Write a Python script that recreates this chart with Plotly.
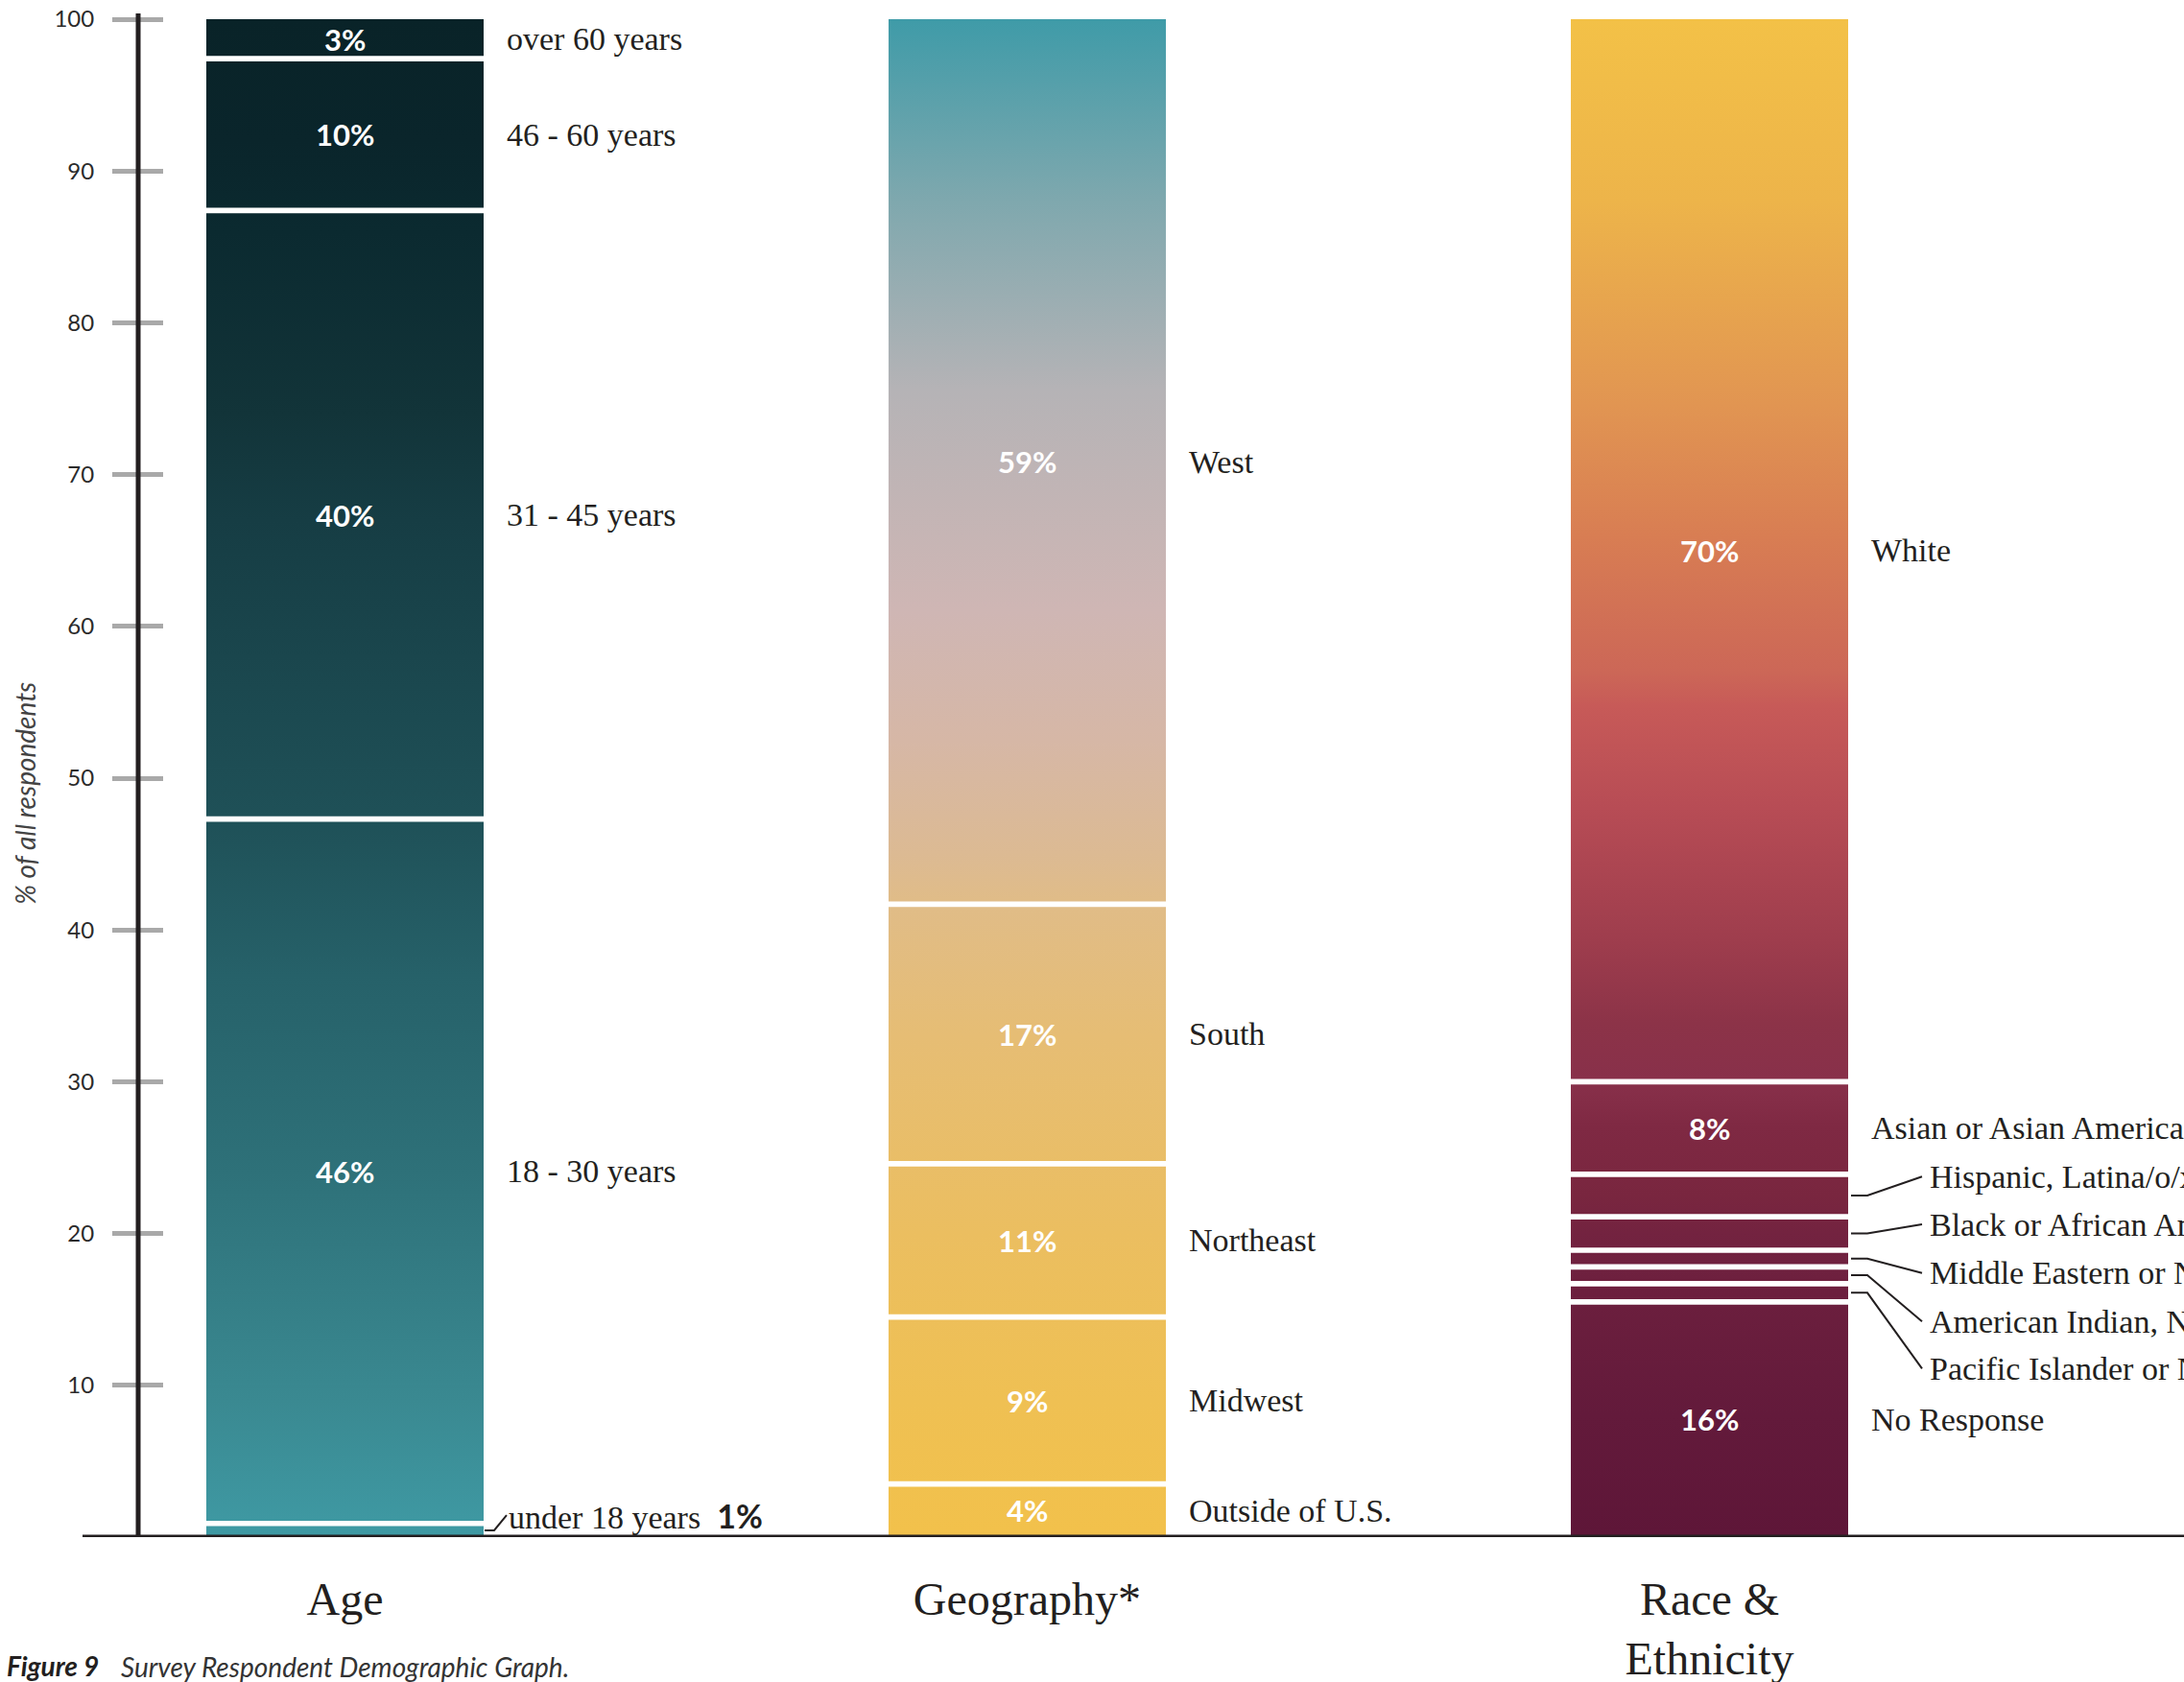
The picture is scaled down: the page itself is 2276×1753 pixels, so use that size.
import plotly.graph_objects as go

# ---------------- data ----------------
categories = ["Age", "Geography*", "Race &<br>Ethnicity"]

age_groups = ["under 18 years", "18 - 30 years", "31 - 45 years", "46 - 60 years", "over 60 years"]
age_values = [0.9, 46.4, 40.1, 10.0, 2.6]
age_labels = ["1%", "46%", "40%", "10%", "3%"]

geo_groups = ["Outside of U.S.", "Midwest", "Northeast", "South", "West"]
geo_values = [3.5, 11.0, 10.1, 17.1, 58.3]
geo_labels = ["4%", "9%", "11%", "17%", "59%"]

race_groups = ["No Response",
               "Pacific Islander or Native Hawaiian",
               "American Indian, Native American, or Alaska Native",
               "Middle Eastern or North African",
               "Black or African American",
               "Hispanic, Latina/o/x, or Spanish Origin",
               "Asian or Asian American",
               "White"]
race_values = [15.5, 1.2, 1.1, 1.1, 2.2, 2.8, 6.1, 70.0]
race_labels = ["16%", "", "", "", "", "", "8%", "70%"]

y_ticks = [10, 20, 30, 40, 50, 60, 70, 80, 90, 100]

# ---------------- styles / layout geometry ----------------
age_scale = [[0, "#3F9AA4"], [0.09, "#3A8991"], [0.24, "#2E7179"], [0.37, "#266169"],
             [0.47, "#1F5158"], [0.67, "#163D44"], [0.74, "#123439"], [0.86, "#0B2A30"],
             [0.92, "#0A252B"], [1, "#092328"]]
geo_scale = [[0, "#F2C14B"], [0.09, "#EFC053"], [0.2, "#EBBE60"], [0.33, "#E6BD74"],
             [0.42, "#E0BC88"], [0.45, "#DCBA93"], [0.525, "#D6B7A6"], [0.61, "#CFB6B4"],
             [0.756, "#B5B3B6"], [0.88, "#7FA8AE"], [1, "#3F9BA8"]]
race_scale = [[0, "#5E1638"], [0.08, "#631A3B"], [0.16, "#6C1F3E"], [0.2, "#732340"],
              [0.225, "#79263F"], [0.27, "#7F2943"], [0.3, "#88304A"], [0.339, "#8C3348"],
              [0.392, "#9E3D4D"], [0.48, "#B74C55"], [0.547, "#C75A58"], [0.57, "#CC6757"],
              [0.658, "#D87D53"], [0.746, "#E19552"], [0.88, "#EDB44A"], [1, "#F3C147"]]

# label positions (layout only) for small race groups that use leader lines
race_leader_label_y = {1: 11.1, 2: 14.2, 3: 17.4, 4: 20.6, 5: 23.75}
under18_label_y = 1.45

SERIF = "Liberation Serif"
SANS = "Lato"
INK = "#231f20"

W, H = 2276, 1753
ML, MT, MB = 171, 14, 151
plot_w = W - ML
plot_h = H - MT - MB
Y_MAX = 100.38
px_per_y = plot_h / Y_MAX
X_MIN, X_MAX = -0.2651, 2.6955
px_per_x = plot_w / (X_MAX - X_MIN)
HALF_W = 144.5 / px_per_x
GAP = 5.7 / px_per_y


def paper_x(px):
    return (px - ML) / plot_w


columns = [
    (age_groups, age_values, age_labels, age_scale),
    (geo_groups, geo_values, geo_labels, geo_scale),
    (race_groups, race_values, race_labels, race_scale),
]

fig = go.Figure()
annotations = []
shapes = []

for ci, (groups, values, labels, scale) in enumerate(columns):
    base = 0.0
    n = len(values)
    for si, (g, v, lab) in enumerate(zip(groups, values, labels)):
        top = base + v
        y0 = base if si == 0 else base + GAP / 2
        y1 = top if si == n - 1 else top - GAP / 2
        xs = [ci - HALF_W, ci + HALF_W, ci + HALF_W, ci - HALF_W, ci - HALF_W]
        ys = [y0, y0, y1, y1, y0]
        fig.add_trace(go.Scatter(
            x=xs, y=ys, fill="toself", mode="none", name=g,
            fillgradient=dict(type="vertical", colorscale=scale, start=0, stop=100),
            hoverinfo="skip", showlegend=False,
        ))
        mid = (base + top) / 2
        # percentage inside the bar
        if lab and not (ci == 0 and si == 0):
            annotations.append(dict(
                x=ci, y=mid, xref="x", yref="y", text="<b>" + lab + "</b>", showarrow=False,
                font=dict(family=SANS, size=31, color="white"),
                xanchor="center", yanchor="middle"))
        # category label right of bar
        if ci == 0 and si == 0:
            annotations.append(dict(
                x=ci + HALF_W, y=under18_label_y, xref="x", yref="y", xshift=24,
                text=g + "&nbsp;&nbsp;<b><span style='font-family:Lato'>" + lab + "</span></b>",
                showarrow=False, font=dict(family=SERIF, size=34, color=INK),
                xanchor="left", yanchor="middle"))
            shapes.append(dict(
                type="path", xref="x", yref="y", xsizemode="pixel", xanchor=ci + HALF_W,
                path=f"M 1,{mid} L 11,{mid} L 24,{under18_label_y}",
                line=dict(color=INK, width=2), layer="above"))
        elif ci == 2 and si in race_leader_label_y:
            ly = race_leader_label_y[si]
            annotations.append(dict(
                x=ci + HALF_W, y=ly, xref="x", yref="y", xshift=83, text=g,
                showarrow=False, font=dict(family=SERIF, size=34, color=INK),
                xanchor="left", yanchor="middle"))
            shapes.append(dict(
                type="path", xref="x", yref="y", xsizemode="pixel", xanchor=ci + HALF_W,
                path=f"M 3,{mid} L 20,{mid} L 77,{ly}",
                line=dict(color=INK, width=2), layer="above"))
        else:
            annotations.append(dict(
                x=ci + HALF_W, y=mid, xref="x", yref="y", xshift=22, text=g,
                showarrow=False, font=dict(family=SERIF, size=34, color=INK),
                xanchor="left", yanchor="middle"))
        base = top

# axis lines
shapes.append(dict(type="line", xref="paper", yref="paper",
                   x0=paper_x(144), x1=paper_x(144), y0=0, y1=1,
                   line=dict(color=INK, width=5), layer="above"))
shapes.append(dict(type="line", xref="paper", yref="y",
                   x0=paper_x(86), x1=1, y0=0, y1=0,
                   line=dict(color=INK, width=5), layer="above"))

# y-axis title
annotations.append(dict(
    x=paper_x(26), y=49, xref="paper", yref="y", text="<i>% of all respondents</i>",
    textangle=-90, showarrow=False,
    font=dict(family=SANS, size=28, color="#444444"),
    xanchor="center", yanchor="middle"))

# caption
annotations.append(dict(
    x=paper_x(5), y=0, xref="paper", yref="paper", yshift=-134,
    text="<b><i>Figure 9</i></b>", showarrow=False,
    font=dict(family=SANS, size=28, color=INK), xanchor="left", yanchor="middle"))
annotations.append(dict(
    x=paper_x(124), y=0, xref="paper", yref="paper", yshift=-135,
    text="<i>Survey Respondent Demographic Graph.</i>", showarrow=False,
    font=dict(family=SANS, size=28, color="#333333"), xanchor="left", yanchor="middle"))

fig.update_layout(
    width=W, height=H,
    margin=dict(l=ML, r=0, t=MT, b=MB, pad=0, autoexpand=False),
    paper_bgcolor="white", plot_bgcolor="white",
    xaxis=dict(range=[X_MIN, X_MAX], tickmode="array", tickvals=[0, 1, 2], ticktext=categories,
               ticks="", showline=False, showgrid=False, zeroline=False, automargin=False,
               tickfont=dict(family=SERIF, size=48, color=INK), ticklabelstandoff=32,
               fixedrange=True),
    yaxis=dict(range=[0, Y_MAX], tickmode="array", tickvals=y_ticks,
               ticktext=[str(v) for v in y_ticks], ticks="outside", ticklen=53, tickwidth=5,
               tickcolor="#a9a9a9", showline=False, showgrid=False, zeroline=False,
               automargin=False,
               tickfont=dict(family=SANS, size=24, color="#2b2b2b"), ticklabelstandoff=14,
               fixedrange=True),
    shapes=shapes,
    annotations=annotations,
    showlegend=False,
)

fig.write_html("out.html")
